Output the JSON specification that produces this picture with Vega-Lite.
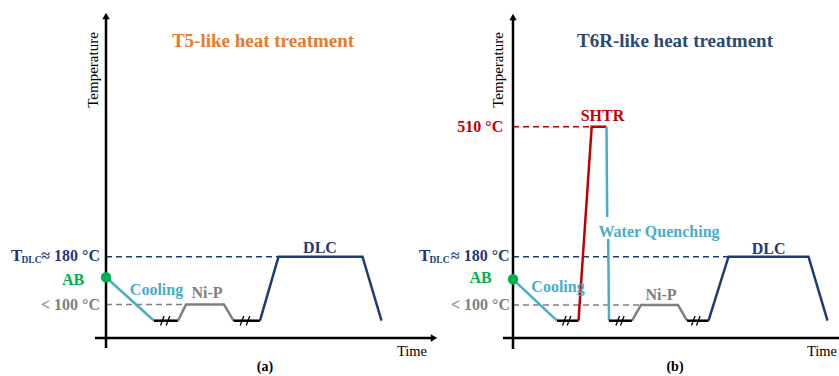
{
  "$schema": "https://vega.github.io/schema/vega-lite/v6.json",
  "padding": 0,
  "spacing": 0,
  "bounds": "flush",
  "background": "white",
  "config": {"view": {"stroke": null}, "legend": {"disable": true}},
  "resolve": {"scale": {"x": "independent", "y": "independent"}},
  "datasets": {
    "a_axes": [{"t": 0, "T": -10, "t2": 0, "T2": 322}, {"t": -11, "T": 0, "t2": 328, "T2": 0}],
    "a_arrows": [{"t": 0, "T": 322, "dir": "up"}, {"t": 328, "T": 0, "dir": "right"}],
    "a_guides": [
      {"t": 0, "T": 81.3, "t2": 172.5, "T2": 81.3, "s": "dlc"},
      {"t": 0, "T": 33.5, "t2": 79, "T2": 33.5, "s": "nip"}
    ],
    "a_lines": [
      {"g": "cool", "s": "cooling", "o": 1, "t": 0, "T": 60.7},
      {"g": "cool", "s": "cooling", "o": 2, "t": 48, "T": 17.3},
      {"g": "b1", "s": "break", "o": 1, "t": 48, "T": 17.3},
      {"g": "b1", "s": "break", "o": 2, "t": 72, "T": 17.3},
      {"g": "nip", "s": "nip", "o": 1, "t": 72, "T": 17.3},
      {"g": "nip", "s": "nip", "o": 2, "t": 80, "T": 33.5},
      {"g": "nip", "s": "nip", "o": 3, "t": 118, "T": 33.5},
      {"g": "nip", "s": "nip", "o": 4, "t": 127.5, "T": 17.3},
      {"g": "b2", "s": "break", "o": 1, "t": 127.5, "T": 17.3},
      {"g": "b2", "s": "break", "o": 2, "t": 154, "T": 17.3},
      {"g": "dlc", "s": "dlc", "o": 1, "t": 154, "T": 17.3},
      {"g": "dlc", "s": "dlc", "o": 2, "t": 172.5, "T": 81.3},
      {"g": "dlc", "s": "dlc", "o": 3, "t": 256.5, "T": 81.3},
      {"g": "dlc", "s": "dlc", "o": 4, "t": 275.5, "T": 17.3}
    ],
    "a_slashes": [
      {"t": 54.5, "T": 12.5, "t2": 58.1, "T2": 22},
      {"t": 60.2, "T": 12.5, "t2": 63.8, "T2": 22},
      {"t": 134.2, "T": 12.5, "t2": 137.8, "T2": 22},
      {"t": 140.2, "T": 12.5, "t2": 143.8, "T2": 22}
    ],
    "a_dots": [{"t": 0, "T": 60.7, "s": "ab"}],
    "a_center": [
      {"t": -33, "T": 58, "label": "AB", "s": "ab"},
      {"t": 50.5, "T": 48, "label": "Cooling", "s": "cooling"},
      {"t": 101, "T": 44.7, "label": "Ni-P", "s": "nip"},
      {"t": 214, "T": 89.7, "label": "DLC", "s": "dlc"}
    ],
    "a_right": [
      {"t": -6, "T": 82, "label": "≈ 180 °C", "s": "dlc"},
      {"t": -6, "T": 33, "label": "< 100 °C", "s": "nip"}
    ],
    "a_big": [{"t": -95, "T": 82, "label": "T", "s": "dlc"}],
    "a_sub": [{"t": -84.5, "T": 78, "label": "DLC", "s": "dlc"}],
    "a_title": [{"t": 157, "T": 297, "label": "T5-like heat treatment", "s": "title_a"}],
    "a_ylab": [{"t": -13, "T": 268, "label": "Temperature"}],
    "a_time": [{"t": 306, "T": -14, "label": "Time"}],
    "a_tag": [{"t": 159, "T": -29, "label": "(a)"}],

    "b_axes": [{"t": 0, "T": -11, "t2": 0, "T2": 321}, {"t": -10, "T": 0, "t2": 326, "T2": 0}],
    "b_arrows": [{"t": 0, "T": 321, "dir": "up"}],
    "b_guides": [
      {"t": 0, "T": 211.3, "t2": 78.7, "T2": 211.3, "s": "shtr"},
      {"t": 0, "T": 81.3, "t2": 215.5, "T2": 81.3, "s": "dlc"},
      {"t": 0, "T": 33, "t2": 128, "T2": 33, "s": "nip"}
    ],
    "b_lines": [
      {"g": "cool", "s": "cooling", "o": 1, "t": 0, "T": 58.7},
      {"g": "cool", "s": "cooling", "o": 2, "t": 44, "T": 17.3},
      {"g": "b1", "s": "break", "o": 1, "t": 44, "T": 17.3},
      {"g": "b1", "s": "break", "o": 2, "t": 65.5, "T": 17.3},
      {"g": "shtr", "s": "shtr", "o": 1, "t": 65.5, "T": 17.3},
      {"g": "shtr", "s": "shtr", "o": 2, "t": 78.7, "T": 211.3},
      {"g": "shtr", "s": "shtr", "o": 3, "t": 93.5, "T": 211.3},
      {"g": "q1", "s": "quench", "o": 1, "t": 93.5, "T": 211.3},
      {"g": "q1", "s": "quench", "o": 2, "t": 94.2, "T": 121},
      {"g": "q2", "s": "quench", "o": 1, "t": 95.2, "T": 99},
      {"g": "q2", "s": "quench", "o": 2, "t": 96, "T": 17.3},
      {"g": "b2", "s": "break", "o": 1, "t": 96, "T": 17.3},
      {"g": "b2", "s": "break", "o": 2, "t": 119, "T": 17.3},
      {"g": "nip", "s": "nip", "o": 1, "t": 119, "T": 17.3},
      {"g": "nip", "s": "nip", "o": 2, "t": 128, "T": 33},
      {"g": "nip", "s": "nip", "o": 3, "t": 165, "T": 33},
      {"g": "nip", "s": "nip", "o": 4, "t": 174, "T": 17.3},
      {"g": "b3", "s": "break", "o": 1, "t": 174, "T": 17.3},
      {"g": "b3", "s": "break", "o": 2, "t": 195.5, "T": 17.3},
      {"g": "dlc", "s": "dlc", "o": 1, "t": 195.5, "T": 17.3},
      {"g": "dlc", "s": "dlc", "o": 2, "t": 215.5, "T": 81.3},
      {"g": "dlc", "s": "dlc", "o": 3, "t": 295.5, "T": 81.3},
      {"g": "dlc", "s": "dlc", "o": 4, "t": 314.5, "T": 17.3}
    ],
    "b_slashes": [
      {"t": 49.5, "T": 12.5, "t2": 53.1, "T2": 22},
      {"t": 54.2, "T": 12.5, "t2": 57.8, "T2": 22},
      {"t": 102.9, "T": 12.5, "t2": 106.5, "T2": 22},
      {"t": 107.5, "T": 12.5, "t2": 111.1, "T2": 22},
      {"t": 178.5, "T": 12.5, "t2": 182.1, "T2": 22},
      {"t": 183.5, "T": 12.5, "t2": 187.1, "T2": 22}
    ],
    "b_dots": [{"t": 0, "T": 58.7, "s": "ab"}],
    "b_center": [
      {"t": -32.5, "T": 60, "label": "AB", "s": "ab"},
      {"t": 45, "T": 50.7, "label": "Cooling", "s": "cooling"},
      {"t": 148, "T": 43, "label": "Ni-P", "s": "nip"},
      {"t": 255.7, "T": 89, "label": "DLC", "s": "dlc"},
      {"t": 89.5, "T": 222, "label": "SHTR", "s": "shtr"},
      {"t": 146, "T": 106, "label": "Water Quenching", "s": "quench"}
    ],
    "b_right": [
      {"t": -3.4, "T": 82, "label": "≈ 180 °C", "s": "dlc"},
      {"t": -3, "T": 33, "label": "< 100 °C", "s": "nip"},
      {"t": -9.7, "T": 211, "label": "510 °C", "s": "shtr"}
    ],
    "b_big": [{"t": -94, "T": 82, "label": "T", "s": "dlc"}],
    "b_sub": [{"t": -83.5, "T": 78, "label": "DLC", "s": "dlc"}],
    "b_title": [{"t": 162, "T": 297, "label": "T6R-like heat treatment", "s": "title_b"}],
    "b_ylab": [{"t": -15, "T": 268, "label": "Temperature"}],
    "b_time": [{"t": 309, "T": -14, "label": "Time"}],
    "b_tag": [{"t": 162, "T": -29, "label": "(b)"}]
  },
  "hconcat": [
    {
      "width": 419,
      "height": 376,
      "encoding": {
        "x": {"field": "t", "type": "quantitative", "scale": {"domain": [-106, 313], "nice": false, "zero": false}, "axis": null},
        "y": {"field": "T", "type": "quantitative", "scale": {"domain": [-38, 338], "nice": false, "zero": false}, "axis": null}
      },
      "layer": [
        {"data": {"name": "a_guides"}, "mark": {"type": "rule", "strokeDash": [6, 4], "strokeWidth": 1.5},
         "encoding": {"x2": {"field": "t2"}, "y2": {"field": "T2"},
           "color": {"field": "s", "type": "nominal", "legend": null,
             "scale": {"domain": ["cooling", "quench", "nip", "dlc", "break", "shtr", "ab", "title_a", "title_b"],
                       "range": ["#4BACC6", "#4BACC6", "#7F7F7F", "#1F3A73", "#000000", "#C00000", "#00B050", "#E97A2B", "#2B4A72"]}}}},
        {"data": {"name": "a_axes"}, "mark": {"type": "rule", "strokeWidth": 2.5, "color": "black"},
         "encoding": {"x2": {"field": "t2"}, "y2": {"field": "T2"}}},
        {"data": {"name": "a_arrows"}, "mark": {"type": "point", "filled": true, "color": "black", "opacity": 1, "size": 55},
         "encoding": {"shape": {"field": "dir", "type": "nominal", "legend": null, "scale": {"domain": ["up", "right"], "range": ["triangle-up", "triangle-right"]}}}},
        {"data": {"name": "a_lines"}, "mark": {"type": "line", "strokeWidth": 2.5},
         "encoding": {"color": {"field": "s", "type": "nominal", "legend": null}, "detail": {"field": "g"}, "order": {"field": "o", "type": "quantitative"}}},
        {"data": {"name": "a_slashes"}, "mark": {"type": "rule", "strokeWidth": 1.3, "color": "black"},
         "encoding": {"x2": {"field": "t2"}, "y2": {"field": "T2"}}},
        {"data": {"name": "a_dots"}, "mark": {"type": "point", "filled": true, "opacity": 1, "size": 110, "shape": "circle"},
         "encoding": {"color": {"field": "s", "type": "nominal", "legend": null}}},
        {"data": {"name": "a_center"}, "mark": {"type": "text", "font": "Liberation Serif", "fontWeight": "bold", "fontSize": 16, "align": "center", "baseline": "middle"},
         "encoding": {"text": {"field": "label"}, "color": {"field": "s", "type": "nominal", "legend": null}}},
        {"data": {"name": "a_right"}, "mark": {"type": "text", "font": "Liberation Serif", "fontWeight": "bold", "fontSize": 16, "align": "right", "baseline": "middle"},
         "encoding": {"text": {"field": "label"}, "color": {"field": "s", "type": "nominal", "legend": null}}},
        {"data": {"name": "a_big"}, "mark": {"type": "text", "font": "Liberation Serif", "fontWeight": "bold", "fontSize": 17, "align": "left", "baseline": "middle"},
         "encoding": {"text": {"field": "label"}, "color": {"field": "s", "type": "nominal", "legend": null}}},
        {"data": {"name": "a_sub"}, "mark": {"type": "text", "font": "Liberation Serif", "fontWeight": "bold", "fontSize": 9.5, "align": "left", "baseline": "middle"},
         "encoding": {"text": {"field": "label"}, "color": {"field": "s", "type": "nominal", "legend": null}}},
        {"data": {"name": "a_title"}, "mark": {"type": "text", "font": "Liberation Serif", "fontWeight": "bold", "fontSize": 19, "align": "center", "baseline": "middle"},
         "encoding": {"text": {"field": "label"}, "color": {"field": "s", "type": "nominal", "legend": null}}},
        {"data": {"name": "a_ylab"}, "mark": {"type": "text", "font": "Liberation Serif", "fontSize": 15, "angle": 270, "align": "center", "baseline": "middle", "color": "black"},
         "encoding": {"text": {"field": "label"}}},
        {"data": {"name": "a_time"}, "mark": {"type": "text", "font": "Liberation Serif", "fontSize": 14.5, "align": "center", "baseline": "middle", "color": "black"},
         "encoding": {"text": {"field": "label"}}},
        {"data": {"name": "a_tag"}, "mark": {"type": "text", "font": "Liberation Serif", "fontWeight": "bold", "fontSize": 14, "align": "center", "baseline": "middle", "color": "black"},
         "encoding": {"text": {"field": "label"}}}
      ]
    },
    {
      "width": 420,
      "height": 376,
      "encoding": {
        "x": {"field": "t", "type": "quantitative", "scale": {"domain": [-94, 326], "nice": false, "zero": false}, "axis": null},
        "y": {"field": "T", "type": "quantitative", "scale": {"domain": [-38, 338], "nice": false, "zero": false}, "axis": null}
      },
      "layer": [
        {"data": {"name": "b_guides"}, "mark": {"type": "rule", "strokeDash": [6, 4], "strokeWidth": 1.5},
         "encoding": {"x2": {"field": "t2"}, "y2": {"field": "T2"}, "color": {"field": "s", "type": "nominal", "legend": null}}},
        {"data": {"name": "b_axes"}, "mark": {"type": "rule", "strokeWidth": 2.5, "color": "black"},
         "encoding": {"x2": {"field": "t2"}, "y2": {"field": "T2"}}},
        {"data": {"name": "b_arrows"}, "mark": {"type": "point", "filled": true, "color": "black", "opacity": 1, "size": 55},
         "encoding": {"shape": {"field": "dir", "type": "nominal", "legend": null}}},
        {"data": {"name": "b_lines"}, "mark": {"type": "line", "strokeWidth": 2.5},
         "encoding": {"color": {"field": "s", "type": "nominal", "legend": null}, "detail": {"field": "g"}, "order": {"field": "o", "type": "quantitative"}}},
        {"data": {"name": "b_slashes"}, "mark": {"type": "rule", "strokeWidth": 1.3, "color": "black"},
         "encoding": {"x2": {"field": "t2"}, "y2": {"field": "T2"}}},
        {"data": {"name": "b_dots"}, "mark": {"type": "point", "filled": true, "opacity": 1, "size": 110, "shape": "circle"},
         "encoding": {"color": {"field": "s", "type": "nominal", "legend": null}}},
        {"data": {"name": "b_center"}, "mark": {"type": "text", "font": "Liberation Serif", "fontWeight": "bold", "fontSize": 16, "align": "center", "baseline": "middle"},
         "encoding": {"text": {"field": "label"}, "color": {"field": "s", "type": "nominal", "legend": null}}},
        {"data": {"name": "b_right"}, "mark": {"type": "text", "font": "Liberation Serif", "fontWeight": "bold", "fontSize": 16, "align": "right", "baseline": "middle"},
         "encoding": {"text": {"field": "label"}, "color": {"field": "s", "type": "nominal", "legend": null}}},
        {"data": {"name": "b_big"}, "mark": {"type": "text", "font": "Liberation Serif", "fontWeight": "bold", "fontSize": 17, "align": "left", "baseline": "middle"},
         "encoding": {"text": {"field": "label"}, "color": {"field": "s", "type": "nominal", "legend": null}}},
        {"data": {"name": "b_sub"}, "mark": {"type": "text", "font": "Liberation Serif", "fontWeight": "bold", "fontSize": 9.5, "align": "left", "baseline": "middle"},
         "encoding": {"text": {"field": "label"}, "color": {"field": "s", "type": "nominal", "legend": null}}},
        {"data": {"name": "b_title"}, "mark": {"type": "text", "font": "Liberation Serif", "fontWeight": "bold", "fontSize": 19, "align": "center", "baseline": "middle"},
         "encoding": {"text": {"field": "label"}, "color": {"field": "s", "type": "nominal", "legend": null}}},
        {"data": {"name": "b_ylab"}, "mark": {"type": "text", "font": "Liberation Serif", "fontSize": 15, "angle": 270, "align": "center", "baseline": "middle", "color": "black"},
         "encoding": {"text": {"field": "label"}}},
        {"data": {"name": "b_time"}, "mark": {"type": "text", "font": "Liberation Serif", "fontSize": 14.5, "align": "center", "baseline": "middle", "color": "black"},
         "encoding": {"text": {"field": "label"}}},
        {"data": {"name": "b_tag"}, "mark": {"type": "text", "font": "Liberation Serif", "fontWeight": "bold", "fontSize": 14, "align": "center", "baseline": "middle", "color": "black"},
         "encoding": {"text": {"field": "label"}}}
      ]
    }
  ]
}
